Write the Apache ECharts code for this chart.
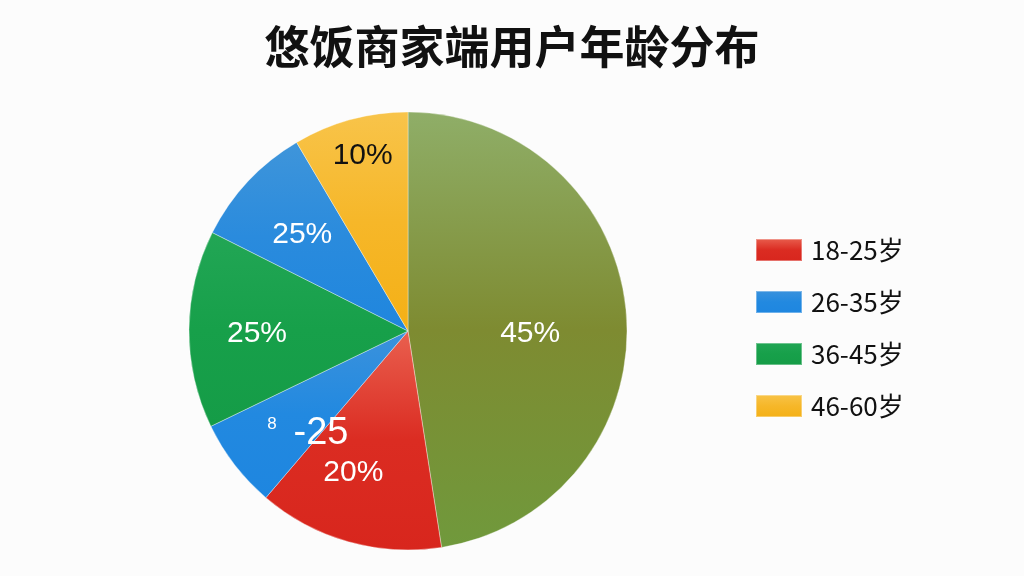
<!DOCTYPE html>
<html>
<head>
<meta charset="utf-8">
<title>悠饭商家端用户年龄分布</title>
<script src="https://cdn.jsdelivr.net/npm/echarts@6/dist/echarts.min.js"></script>
<style>
  html, body { margin: 0; padding: 0; background: #fcfcfc; }
  #main { width: 1024px; height: 576px; }
</style>
</head>
<body>
<div id="main"></div>
<script>
// 扇区顺序：从12点方向顺时针
const sliceNames = ['其他', '18-25岁', '26-35岁', '36-45岁', '26-35岁', '46-60岁'];
const sliceValues = [47.6, 13.7, 6.6, 14.6, 9.1, 8.5];
const sliceLabels = ['45%', '20%', '8 -25', '25%', '25%', '10%'];
const legendNames = ['18-25岁', '26-35岁', '36-45岁', '46-60岁'];

// 每个扇区的渐变色 [上, 中, 下]
const sliceColors = [
  ['#8fae68', '#7e8b31', '#70993c'],
  ['#e9604f', '#db2c22', '#d8261d'],
  ['#3b92dc', '#2289e0', '#1e86e0'],
  ['#22a655', '#17a04a', '#159c47'],
  ['#3f95da', '#2a8bdd', '#1f86de'],
  ['#f8c44a', '#f6b729', '#f4b016']
];

// 标签微调（像素偏移）
const labelOffsets = [[10, 11], [-13, -5], [21, 9], [2, 4], [6, 8], [-5, -28]];

const grad = (c) => new echarts.graphic.LinearGradient(0, 0, 0, 1, [
  { offset: 0, color: c[0] },
  { offset: 0.5, color: c[1] },
  { offset: 1, color: c[2] }
]);

const chart = echarts.init(document.getElementById('main'));

const mainData = sliceNames.map((name, i) => ({
  name: name,
  value: sliceValues[i],
  itemStyle: { color: grad(sliceColors[i]) },
  label: { show: i === 0, formatter: sliceLabels[i], offset: labelOffsets[i] }
}));

// 透明的外层饼，仅用于把标签放到更靠外的位置
const labelData = sliceNames.map((name, i) => {
  const item = {
    name: name,
    value: sliceValues[i],
    label: { show: i !== 0, formatter: sliceLabels[i], offset: labelOffsets[i] }
  };
  if (i === 5) item.label.color = '#111';
  if (i === 2) item.label.formatter = '{s|8}  {b|-25}';
  return item;
});

chart.setOption({
  backgroundColor: '#fcfcfc',
  animation: false,
  title: {
    text: '悠饭商家端用户年龄分布',
    left: 'center',
    top: 19,
    textStyle: {
      fontFamily: 'Noto Sans CJK SC',
      fontSize: 45,
      fontWeight: 'bold',
      color: '#111'
    }
  },
  legend: {
    data: legendNames,
    orient: 'vertical',
    left: 750,
    top: 232,
    itemWidth: 46,
    itemHeight: 22,
    itemGap: 26,
    selectedMode: false,
    icon: 'rect',
    textStyle: {
      fontFamily: 'Noto Sans CJK SC',
      fontSize: 26,
      lineHeight: 26,
      color: '#111',
      padding: [0, 0, 0, 4]
    }
  },
  series: [{
    type: 'pie',
    center: [408, 331],
    radius: [0, 219],
    startAngle: 90,
    clockwise: true,
    silent: true,
    data: mainData,
    itemStyle: {
      borderColor: 'rgba(255,255,255,0.35)',
      borderWidth: 1
    },
    label: {
      position: 'inside',
      color: '#fff',
      fontSize: 30,
      fontFamily: 'Liberation Sans'
    },
    labelLine: { show: false }
  }, {
    type: 'pie',
    center: [408, 331],
    radius: [0, 300],
    startAngle: 90,
    clockwise: true,
    silent: true,
    data: labelData,
    itemStyle: { color: 'rgba(0,0,0,0)' },
    label: {
      position: 'inside',
      color: '#fff',
      fontSize: 30,
      fontFamily: 'Liberation Sans',
      rich: {
        s: { fontSize: 17, color: '#fff', fontFamily: 'Liberation Sans', padding: [0, 0, 18, 0] },
        b: { fontSize: 38, color: '#fff', fontFamily: 'Liberation Sans' }
      }
    },
    labelLine: { show: false }
  }]
});
</script>
</body>
</html>
